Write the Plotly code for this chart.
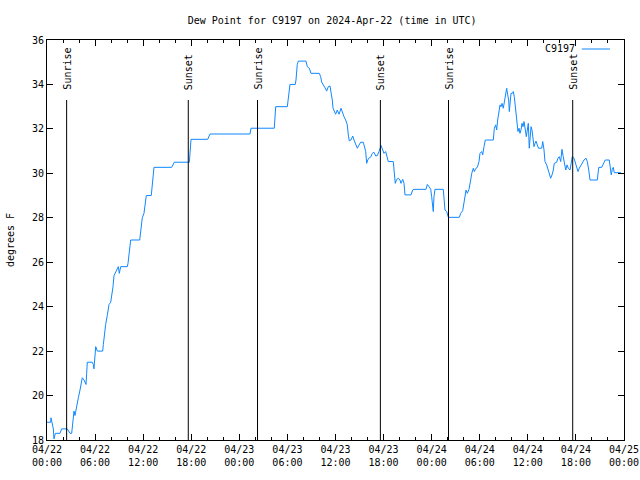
import plotly.graph_objects as go
import pandas as pd

start = pd.Timestamp("2024-04-22 00:00")

# hours since 2024-04-22 00:00 UTC
hours = [0.0, 0.46, 0.50, 0.59, 0.79, 0.87, 1.04, 1.62, 1.83, 2.53, 2.87, 3.08, 3.21, 3.37, 3.49, 3.62,
         3.78, 3.91, 4.12, 4.28, 4.40, 4.62, 4.87, 4.95, 5.03, 5.65, 5.78, 5.86, 5.95, 6.08, 6.28, 6.95,
         7.03, 7.15, 7.32, 7.52, 7.74, 7.95, 8.07, 8.24, 8.36, 8.57, 8.77, 8.90, 9.02, 9.20, 10.02, 10.11,
         10.23, 10.44, 11.57, 11.69, 11.89, 12.10, 12.23, 12.39, 13.01, 13.19, 13.35, 15.56, 15.69, 15.88,
         17.76, 17.84, 17.97, 20.05, 20.18, 20.34, 25.33, 25.46, 28.36, 28.54, 29.99, 30.11, 30.32, 30.98,
         31.07, 31.23, 31.36, 32.32, 32.48, 32.73, 32.94, 33.98, 34.15, 34.28, 34.48, 34.69, 34.90, 35.10,
         35.31, 35.44, 35.60, 35.69, 35.85, 36.02, 36.22, 36.44, 36.69, 36.85, 37.06, 37.27, 37.47, 37.60,
         37.72, 37.93, 38.15, 38.35, 38.56, 38.72, 38.93, 39.14, 39.47, 39.59, 39.77, 39.89, 40.02, 40.22,
         40.43, 40.59, 40.80, 41.02, 41.22, 41.43, 41.68, 41.84, 42.05, 42.26, 42.39, 42.59, 43.21, 43.34,
         43.46, 43.64, 43.84, 44.05, 44.17, 44.39, 44.55, 44.67, 45.42, 45.63, 45.80, 47.29, 47.46, 47.67,
         47.88, 48.00, 48.08, 48.20, 48.29, 48.41, 49.45, 49.58, 49.66, 49.88, 50.08, 51.45, 51.62, 51.87,
         52.04, 52.16, 52.29, 52.45, 52.66, 52.87, 53.00, 53.20, 53.32, 53.53, 53.70, 53.91, 54.03, 54.24,
         54.37, 54.53, 54.69, 55.69, 55.82, 55.99, 56.11, 56.24, 56.40, 56.53, 56.65, 56.78, 56.94, 57.06,
         57.19, 57.36, 57.49, 57.61, 57.69, 57.77, 57.90, 58.06, 58.19, 58.31, 58.44, 58.56, 58.65, 58.77,
         58.90, 59.02, 59.15, 59.27, 59.40, 59.52, 59.69, 59.81, 59.94, 60.06, 60.18, 60.27, 60.40, 60.52,
         60.65, 60.77, 60.90, 61.02, 61.18, 61.33, 61.73, 61.86, 62.02, 62.14, 62.35, 62.55, 62.68, 62.85,
         63.02, 63.18, 63.30, 63.60, 63.76, 63.93, 64.10, 64.26, 64.42, 64.55, 64.73, 64.89, 65.05, 65.26,
         65.39, 65.55, 65.76, 65.92, 66.10, 66.26, 66.42, 66.72, 67.01, 67.26, 67.42, 67.60, 67.76, 68.67,
         68.85, 69.22, 69.41, 69.66, 70.16, 70.29, 70.41, 70.54, 70.66, 70.79, 71.60]

dewpoint = [18.8, 18.8, 19.0, 18.8, 18.5, 18.05, 18.3, 18.3, 18.5, 18.5, 18.3, 18.3, 18.8, 19.3, 19.1, 19.4,
            19.7, 19.9, 20.25, 20.7, 20.8, 20.7, 20.5, 21.0, 21.5, 21.5, 21.4, 21.2, 21.75, 22.2, 22.0, 22.0,
            22.3, 22.8, 23.2, 23.6, 24.1, 24.2, 24.45, 24.9, 25.4, 25.6, 25.7, 25.8, 25.5, 25.8, 25.8, 25.95,
            26.3, 27.0, 27.0, 27.45, 28.0, 28.2, 28.5, 29.0, 29.0, 29.6, 30.27, 30.27, 30.4, 30.5,
            30.5, 31.05, 31.53, 31.53, 31.68, 31.77, 31.77, 32.03, 32.03, 33.0, 33.0, 33.5, 34.0, 34.0,
            34.2, 34.9, 35.05, 35.05, 34.8, 34.73, 34.5, 34.5, 34.35, 34.1, 34.0, 33.85, 33.7, 33.9,
            33.93, 33.68, 33.3, 32.93, 32.78, 32.66, 32.85, 32.66, 32.93, 32.75, 32.55, 32.4, 32.18, 31.73,
            31.46, 31.5, 31.68, 31.46, 31.3, 31.13, 31.27, 31.4, 31.4, 31.27, 30.98, 30.45, 30.6, 30.7,
            30.75, 30.9, 30.95, 30.78, 30.8, 30.98, 31.25, 31.1, 30.9, 30.98, 30.78, 30.53, 30.53, 30.15,
            29.55, 29.73, 29.78, 29.7, 29.55, 29.73, 29.55, 29.03, 29.03, 29.25, 29.28, 29.28, 29.5, 29.4,
            29.28, 28.95, 28.5, 28.28, 28.95, 29.28, 29.28, 28.8, 28.35, 28.28, 28.02, 28.02, 28.2, 28.32,
            28.72, 29.03, 29.25, 29.1, 29.28, 29.7, 30.0, 30.23, 30.08, 30.23, 30.27, 30.53, 30.9, 30.98,
            30.83, 31.2, 31.5, 31.5, 32.03, 32.18, 31.95, 32.4, 32.78, 33.08, 33.0, 33.15, 32.93, 33.23,
            33.6, 33.83, 33.53, 33.3, 32.78, 33.15, 33.6, 33.6, 33.68, 33.45, 33.0, 32.63, 32.1, 31.88,
            32.03, 31.8, 31.95, 32.25, 32.1, 32.33, 31.95, 31.65, 31.95, 32.25, 31.13, 31.73, 32.1, 31.95,
            31.43, 31.2, 31.35, 31.45, 31.28, 31.13, 31.13, 31.43, 31.05, 30.53, 30.38, 30.15, 30.0, 29.78,
            29.93, 30.15, 30.45, 30.5, 30.68, 30.75, 30.53, 31.08, 30.75, 30.53, 30.15, 30.38, 30.23, 30.15,
            30.53, 30.75, 30.68, 30.45, 30.23, 30.08, 30.23, 30.45, 30.6, 30.68, 30.53, 30.15, 29.7, 29.7,
            30.27, 30.27, 30.45, 30.6, 30.6, 30.15, 29.93, 30.18, 30.27, 30.03, 30.03]

event_names = ["Sunrise", "Sunset", "Sunrise", "Sunset", "Sunrise", "Sunset"]
event_hours = [2.45, 17.63, 26.27, 41.6, 50.1, 65.6]

tick_hours = [0, 6, 12, 18, 24, 30, 36, 42, 48, 54, 60, 66, 72]
tick_labels = ["04/22<br>00:00", "04/22<br>06:00", "04/22<br>12:00", "04/22<br>18:00",
               "04/23<br>00:00", "04/23<br>06:00", "04/23<br>12:00", "04/23<br>18:00",
               "04/24<br>00:00", "04/24<br>06:00", "04/24<br>12:00", "04/24<br>18:00",
               "04/25<br>00:00"]
y_ticks = [18, 20, 22, 24, 26, 28, 30, 32, 34, 36]

def t(h):
    return start + pd.Timedelta(hours=h)

times = [t(h) for h in hours]
FONT = "DejaVu Sans Mono"
LINE_COLOR = "#0f87ff"

fig = go.Figure()
fig.add_trace(go.Scatter(x=times, y=dewpoint, mode="lines", name="C9197",
                         line=dict(color=LINE_COLOR, width=1), showlegend=False))

shapes = []
annotations = []
for name, h in zip(event_names, event_hours):
    shapes.append(dict(type="line", xref="x", yref="paper", x0=t(h), x1=t(h), y0=0, y1=0.85,
                       line=dict(color="black", width=1)))
    annotations.append(dict(x=t(h), y=0.87, xref="x", yref="paper", text=name, showarrow=False,
                            textangle=-90, xanchor="center", yanchor="bottom",
                            font=dict(family=FONT, size=10, color="black")))

# legend (gnuplot style: text then sample)
annotations.append(dict(x=0.918, y=0.9775, xref="paper", yref="paper", text="C9197", showarrow=False,
                        xanchor="right", yanchor="middle", font=dict(family=FONT, size=10, color="black")))
shapes.append(dict(type="line", xref="paper", yref="paper", x0=0.927, x1=0.9757, y0=0.9775, y1=0.9775,
                   line=dict(color=LINE_COLOR, width=1)))

# y-axis label
annotations.append(dict(x=-0.064, y=0.5, xref="paper", yref="paper", text="degrees F", showarrow=False,
                        textangle=-90, xanchor="center", yanchor="middle",
                        font=dict(family=FONT, size=10, color="black")))

fig.update_layout(
    width=640, height=480,
    margin=dict(l=47, r=16, t=40, b=40, autoexpand=False),
    paper_bgcolor="white", plot_bgcolor="white",
    font=dict(family=FONT, size=10, color="black"),
    title=dict(text="Dew Point for C9197 on 2024-Apr-22 (time in UTC)", x=0.519, xref="container",
               xanchor="center", y=0.958, yref="container", yanchor="middle",
               font=dict(family=FONT, size=10, color="black")),
    shapes=shapes, annotations=annotations,
)
fig.update_xaxes(
    type="date", range=[t(0), t(72)], automargin=False,
    tickmode="array", tickvals=[t(h) for h in tick_hours], ticktext=tick_labels,
    ticks="inside", ticklen=6, tickcolor="black", tickwidth=1,
    minor=dict(dtick=2 * 3600 * 1000, tick0=t(0), ticks="inside", ticklen=3, tickcolor="black", showgrid=False),
    showline=True, linecolor="black", linewidth=1, mirror="allticks",
    showgrid=False, zeroline=False,
)
fig.update_yaxes(
    range=[18, 36], tickmode="array", tickvals=y_ticks, ticktext=[str(v) for v in y_ticks],
    automargin=False,
    ticks="inside", ticklen=6, tickcolor="black", tickwidth=1,
    showline=True, linecolor="black", linewidth=1, mirror="allticks",
    showgrid=False, zeroline=False,
)

fig.write_html("out.html")
